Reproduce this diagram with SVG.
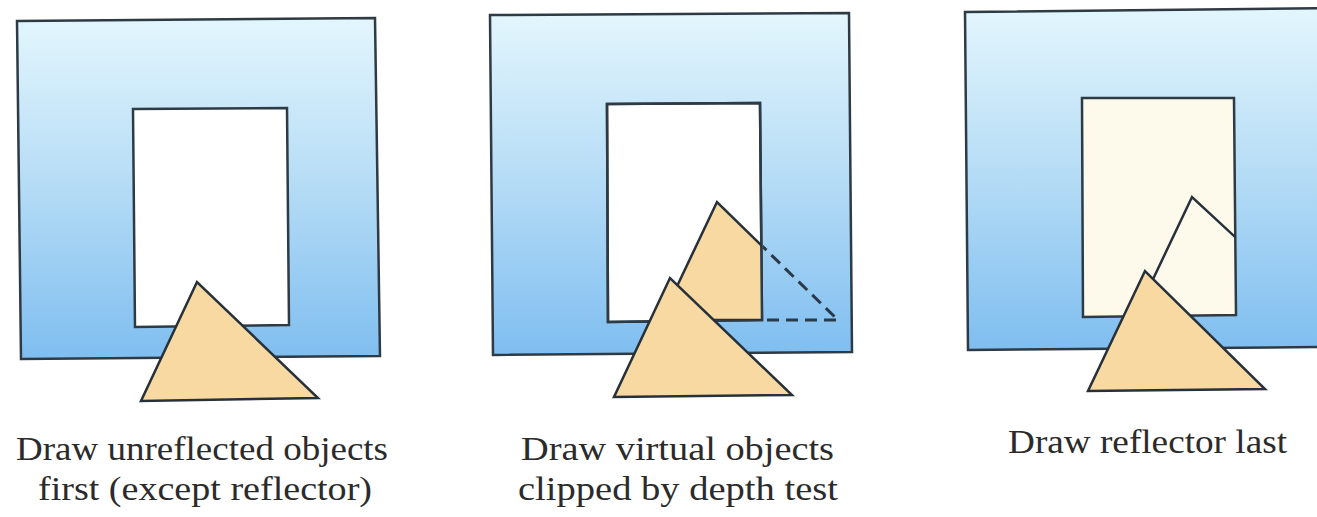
<svg xmlns="http://www.w3.org/2000/svg" width="1317" height="517" viewBox="0 0 1317 517">
<style>
.frame{fill:url(#sky);stroke:#2e3a44;stroke-width:2.5;stroke-linejoin:miter}
.mirror{fill:#ffffff;stroke:#2e3a44;stroke-width:2.5}
.mirror3{fill:#fdfaec;stroke:#2e3a44;stroke-width:2.5}
.tri{fill:#f8d9a2;stroke:#26313a;stroke-width:2.5;stroke-linejoin:miter}
.line{fill:none;stroke:#26313a;stroke-width:2.5}
.dash{fill:none;stroke:#2a3a4a;stroke-width:3;stroke-dasharray:12 7}
.cap{font-family:"Liberation Serif","Times New Roman",serif;font-size:34px;fill:#2b2b2b}
</style>
<defs>
<linearGradient id="sky" x1="0" y1="0" x2="0" y2="1">
<stop offset="0" stop-color="#e3f6fd"/>
<stop offset="0.45" stop-color="#b9def6"/>
<stop offset="1" stop-color="#7fbef0"/>
</linearGradient>
<clipPath id="in2"><rect x="607" y="103" width="155" height="217"/></clipPath>
<clipPath id="out2"><rect x="763" y="150" width="100" height="200"/></clipPath>
<clipPath id="in3"><rect x="1083" y="98" width="152" height="217"/></clipPath>
</defs>

<g id="panel1">
<polygon class="frame" points="17,21 375,18 380,356 21,359"/>
<polygon class="mirror" points="133,109 287,108 289,325 135,327"/>
<polygon class="tri" points="197,282 141,401 318,398"/>
</g>

<g id="panel2">
<polygon class="frame" points="490,15 849,13 852,352 493,355"/>
<polygon class="mirror" points="607,104 760,103 762,320 608,322"/>
<polygon points="717,202 661,320 838,320" fill="#f8d9a2" clip-path="url(#in2)"/>
<polygon points="607,104 760,103 762,320 608,322" fill="none" stroke="#2e3a44" stroke-width="2.5"/>
<polygon class="line" points="717,202 661,320 838,320" clip-path="url(#in2)"/>
<polyline class="dash" points="717,202 838,320 700,320" clip-path="url(#out2)"/>
<polygon class="tri" points="670,278 614,397 792,395"/>
</g>

<g id="panel3">
<polygon class="frame" points="965,12 1330,8 1330,347 968,350"/>
<polygon class="mirror3" points="1082,98 1234,98 1236,315 1083,317"/>
<polyline class="line" points="1136,315 1192,197 1260,260" clip-path="url(#in3)"/>
<polygon class="tri" points="1145,271 1088,391 1265,389"/>
</g>

<g id="labels">
<text class="cap" x="16" y="460" textLength="372" lengthAdjust="spacingAndGlyphs">Draw unreflected objects</text>
<text class="cap" x="38" y="500" textLength="334" lengthAdjust="spacingAndGlyphs">first (except reflector)</text>
<text class="cap" x="521" y="460" textLength="313" lengthAdjust="spacingAndGlyphs">Draw virtual objects</text>
<text class="cap" x="518" y="500" textLength="320" lengthAdjust="spacingAndGlyphs">clipped by depth test</text>
<text class="cap" x="1008" y="453" textLength="279" lengthAdjust="spacingAndGlyphs">Draw reflector last</text>
</g>
</svg>
